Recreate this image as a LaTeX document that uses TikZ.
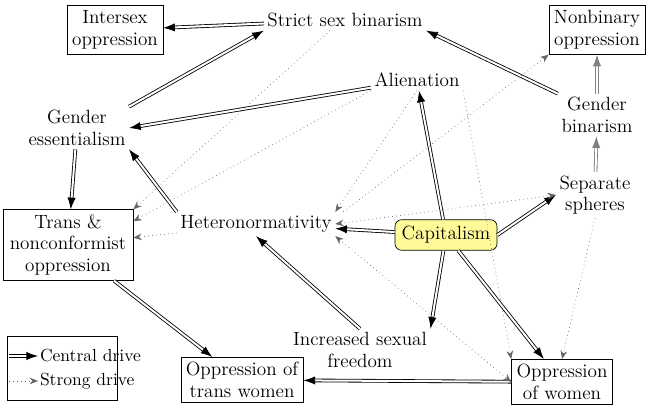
\documentclass[tikz,border=0pt]{standalone}
\usetikzlibrary{arrows.meta}
\tikzset{
  box/.style={draw, align=center, inner sep=3pt},
  lbl/.style={align=center, inner sep=2pt},
  central/.style={double, double distance=1.2pt, line width=0.5pt, -{Latex[length=7pt,width=5pt]}},
  strong/.style={dotted, line width=0.4pt, gray!80!black, -{Stealth[length=5pt,width=4pt]}},
  pale/.style={draw=gray}
}
\begin{document}
\begin{tikzpicture}[x=0.6pt,y=-0.6pt, every node/.style={font=\fontsize{11.5}{13}\selectfont}]
\useasboundingbox (0,0) rectangle (652,410);

% Nodes
\node[box] (inter) at (115,30) {Intersex\\oppression};
\node[lbl] (strict) at (345,20) {Strict sex binarism};
\node[box] (nonbin) at (597,30) {Nonbinary\\oppression};
\node[lbl] (alien) at (417,80) {Alienation};
\node[lbl] (ess) at (77,128) {Gender\\essentialism};
\node[lbl] (gbin) at (597,115) {Gender\\binarism};
\node[lbl] (sep) at (595,195) {Separate\\spheres};
\node[box, minimum width=78pt] (trans) at (68,245) {Trans \&\\nonconformist\\oppression};
\node[lbl] (hetero) at (256,224) {Heteronormativity};
\node[draw, rounded corners=4pt, fill=yellow!40, inner sep=4pt] (cap) at (446,235) {Capitalism};
\node[lbl] (free) at (360,350) {Increased sexual\\freedom};
\node[box] (otw) at (242,380) {Oppression of\\trans women};
\node[box] (ow) at (562,382) {Oppression\\of women};

% Central drives
\draw[central] (strict) -- (inter);
\draw[central] (gbin.north west) -- (strict.south east);
\draw[central, pale] (gbin) -- (nonbin);
\draw[central, pale] (sep) -- (gbin);
\draw[central] (alien) -- (ess.east);
\draw[central] (ess.north east) -- (strict.south west);
\draw[central] (ess) -- (trans);
\draw[central] (hetero.north west) -- (ess.south east);
\draw[central] (cap) -- (alien);
\draw[central] (cap) -- (hetero);
\draw[central] (cap.east) -- (sep.west);
\draw[central] (cap) -- (free.north east);
\draw[central] (cap) -- (ow);
\draw[central] (free.north) -- (hetero.south);
\draw[central] (trans) -- (otw);
\draw[central] (ow) -- (otw);

% Strong drives
\draw[strong] (strict.south) ++(-15,0) -- (trans.north east);
\draw[strong] (alien.south west) -- (trans.20);
\draw[strong] (alien.south) -- (hetero.north east);
\draw[strong] (alien.south east) -- (ow.north west);
\draw[strong] (hetero.north east) ++(8,0) -- (nonbin.south west);
\draw[strong, {Stealth[length=5pt,width=4pt]}-{Stealth[length=5pt,width=4pt]}] (hetero.east) -- (sep.west);
\draw[strong] (hetero) -- (trans);
\draw[strong, {Stealth[length=5pt,width=4pt]}-{Stealth[length=5pt,width=4pt]}] (hetero.south east) -- (ow.west);
\draw[strong] (sep.south) -- (ow.north);

% Legend
\draw (7,336) rectangle (117,400);
\coordinate (la) at (9,356);
\coordinate (lb) at (38,356);
\coordinate (lc) at (9,381);
\coordinate (ld) at (38,381);
\draw[central] (la) -- (lb) node[right, inner sep=1pt, font=\fontsize{10.5}{12}\selectfont] {Central drive};
\draw[strong] (lc) -- (ld) node[right, inner sep=1pt, black, font=\fontsize{10.5}{12}\selectfont] {Strong drive};
\end{tikzpicture}
\end{document}
